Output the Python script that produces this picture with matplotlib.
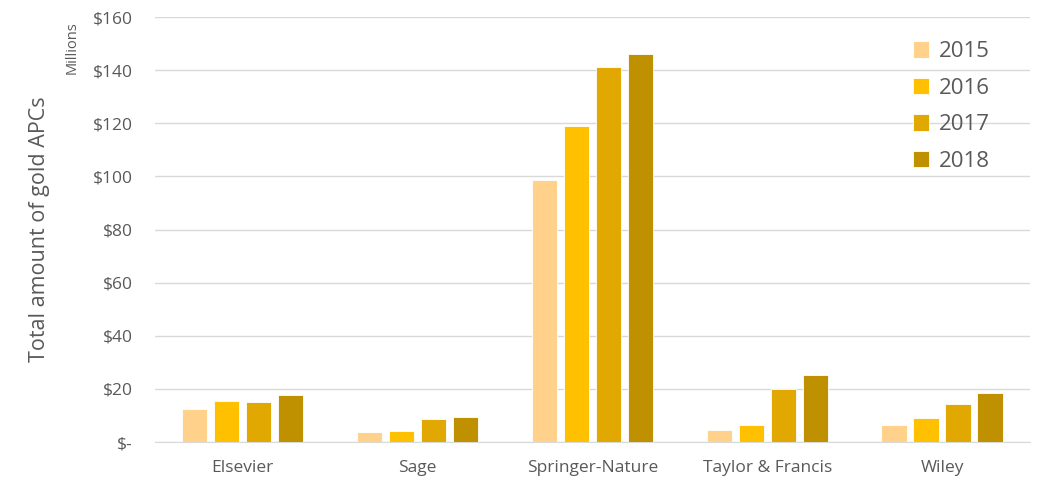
import numpy as np
import matplotlib.pyplot as plt
from matplotlib.ticker import FuncFormatter

# === Data (millions USD) ===
publishers = ["Elsevier", "Sage", "Springer-Nature", "Taylor & Francis", "Wiley"]
years = ["2015", "2016", "2017", "2018"]
apc_2015 = [12.4, 3.8, 98.6, 4.5, 6.4]
apc_2016 = [15.4, 4.0, 119.0, 6.4, 9.0]
apc_2017 = [15.1, 8.7, 141.2, 20.0, 14.3]
apc_2018 = [17.7, 9.4, 146.0, 25.2, 18.5]
series = [apc_2015, apc_2016, apc_2017, apc_2018]

colors = ["#FFD18A", "#FFC000", "#E0A800", "#BF9000"]
grey = "#595959"

plt.rcParams["font.family"] = ["Open Sans", "DejaVu Sans"]

fig = plt.figure(figsize=(10.4, 4.79), dpi=100)
ax = fig.add_axes([0.149, 0.0772, 0.841, 0.8873])

x = np.arange(len(publishers))
step = 0.183
width = 0.145
for i, (vals, yr) in enumerate(zip(series, years)):
    ax.bar(x + (i - 1.5) * step, vals, width, color=colors[i], label=yr,
           edgecolor="white", linewidth=0.6, zorder=3)

ax.set_xlim(-0.5, len(publishers) - 0.5)
ax.set_ylim(0, 160)
ax.set_yticks(range(0, 161, 20))
ax.yaxis.set_major_formatter(FuncFormatter(lambda v, p: "$-" if v == 0 else f"${v:.0f}"))
ax.set_xticks(x)
ax.set_xticklabels(publishers)

ax.grid(axis="y", color="#D9D9D9", linewidth=1, zorder=0)
for s in ["top", "right", "left"]:
    ax.spines[s].set_visible(False)
ax.spines["bottom"].set_color("#D9D9D9")
ax.tick_params(axis="both", length=0, colors=grey, labelsize=12.5)
ax.tick_params(axis="x", pad=13)
ax.tick_params(axis="y", pad=16)

ax.set_ylabel("Total amount of gold APCs", fontsize=15.5, color=grey, labelpad=31)
fig.text(0.069, 0.955, "Millions", rotation=90, fontsize=10.5, color=grey,
         ha="center", va="top")

leg = ax.legend(loc="upper right", bbox_to_anchor=(0.978, 0.99), frameon=False,
                fontsize=16, handlelength=0.75, handleheight=0.75,
                handletextpad=0.45, labelspacing=0.7)
for t in leg.get_texts():
    t.set_color(grey)

fig.savefig("out.png", dpi=100)
